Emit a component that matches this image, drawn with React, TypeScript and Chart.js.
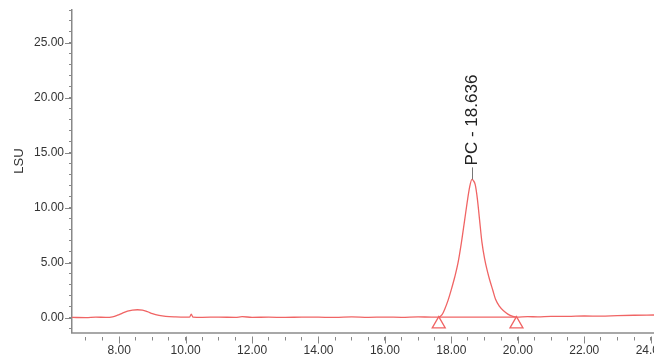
import React, { useEffect, useRef } from 'react';
import { Chart, registerables } from 'chart.js';

Chart.register(...registerables);

// Retention time (min) and detector signal (LSU)
const times = [
  6.58, 7.0, 7.3, 7.6, 7.8, 7.95, 8.1, 8.25, 8.4, 8.55, 8.7, 8.85, 9.0, 9.2, 9.4, 9.7,
  10.0, 10.12, 10.17, 10.22, 10.5, 11.0, 11.5, 11.7, 12.0, 12.5, 13.0, 13.5, 14.0, 14.5,
  15.0, 15.5, 16.0, 16.5, 17.0, 17.4, 17.62, 17.72, 17.8, 17.9, 18.0, 18.1, 18.2, 18.3,
  18.4, 18.48, 18.55, 18.62, 18.66, 18.72, 18.78, 18.85, 18.92, 19.0, 19.08, 19.15, 19.25,
  19.33, 19.45, 19.57, 19.7, 19.85, 19.96, 20.3, 20.6, 21.0, 21.5, 22.0, 22.5, 23.0, 23.5, 24.1,
];
const lsu = [
  0.05, 0.04, 0.08, 0.05, 0.1, 0.25, 0.45, 0.62, 0.72, 0.75, 0.72, 0.58, 0.4, 0.24, 0.15, 0.1,
  0.08, 0.08, 0.35, 0.08, 0.06, 0.08, 0.05, 0.12, 0.06, 0.07, 0.05, 0.08, 0.07, 0.05,
  0.1, 0.06, 0.08, 0.06, 0.1, 0.08, 0.08, 0.3, 0.8, 1.6, 2.6, 3.7, 5.0, 6.8,
  8.9, 10.6, 11.9, 12.6, 12.5, 12.1, 10.9, 8.9, 6.9, 5.4, 4.3, 3.5, 2.5,
  1.7, 1.05, 0.65, 0.35, 0.15, 0.08, 0.12, 0.1, 0.15, 0.14, 0.18, 0.17, 0.22, 0.25, 0.27,
];

const peakName = 'PC - 18.636';
const peakTime = 18.636;
const peakApex = 12.6;
const peakStart = 17.62;
const peakEnd = 19.96;
const baselineLevel = 0.08;
const markerLevel = -0.56;

const xLabelValues = [8, 10, 12, 14, 16, 18, 20, 22, 24];
const yLabelValues = [0, 5, 10, 15, 20, 25];
const yTitle = 'LSU';

const X_MIN = 6.58;
const X_MAX = 24.1;
const Y_MIN = -1.32;
const Y_MAX = 28;

const RED = 'rgb(240,100,100)';
const AXIS = '#888';
const TEXT = '#333';
const FONT = 'Liberation Sans, Arial, sans-serif';

const annotations = {
  id: 'annotations',
  afterDraw(chart: any) {
    const { ctx, chartArea } = chart;
    const xs = chart.scales.x;
    const ys = chart.scales.y;
    const x2 = chart.scales.x2;
    ctx.save();
    // longer major ticks
    ctx.strokeStyle = AXIS;
    ctx.lineWidth = 1;
    yLabelValues.forEach((v) => {
      const py = Math.round(ys.getPixelForValue(v)) + 0.5;
      ctx.beginPath();
      ctx.moveTo(chartArea.left - 7, py);
      ctx.lineTo(chartArea.left, py);
      ctx.stroke();
    });
    xLabelValues.forEach((v) => {
      const px = Math.round(x2.getPixelForValue(v)) + 0.5;
      ctx.beginPath();
      ctx.moveTo(px, x2.top);
      ctx.lineTo(px, x2.top + 7);
      ctx.stroke();
    });
    // peak label
    const px = xs.getPixelForValue(peakTime);
    const py = ys.getPixelForValue(peakApex);
    ctx.strokeStyle = '#777';
    ctx.beginPath();
    ctx.moveTo(Math.round(px) + 0.5, py);
    ctx.lineTo(Math.round(px) + 0.5, py - 12);
    ctx.stroke();
    ctx.translate(px, py - 13);
    ctx.rotate(-Math.PI / 2);
    ctx.fillStyle = '#222';
    ctx.font = `17px ${FONT}`;
    ctx.textAlign = 'left';
    ctx.textBaseline = 'middle';
    ctx.fillText(peakName, 1, 0);
    ctx.restore();
    // y title
    ctx.save();
    ctx.translate(19, 161);
    ctx.rotate(-Math.PI / 2);
    ctx.fillStyle = TEXT;
    ctx.font = `13px ${FONT}`;
    ctx.textAlign = 'center';
    ctx.textBaseline = 'middle';
    ctx.fillText(yTitle, 0, 0);
    ctx.restore();
  },
};

export default function App() {
  const ref = useRef<HTMLCanvasElement>(null);
  useEffect(() => {
    if (!ref.current) return;
    const xMinor: number[] = [];
    for (let v = 7; v <= 24.001; v += 0.5) xMinor.push(Math.round(v * 10) / 10);
    const yMinor: number[] = [];
    for (let v = -1; v <= 28; v += 1) yMinor.push(v);

    const chart = new Chart(ref.current, {
      type: 'line',
      data: {
        datasets: [
          {
            data: times.map((t, i) => ({ x: t, y: lsu[i] })),
            borderColor: RED,
            borderWidth: 1.3,
            pointRadius: 0,
            cubicInterpolationMode: 'monotone',
            xAxisID: 'x',
            yAxisID: 'y',
          },
          {
            data: [
              { x: peakStart, y: baselineLevel },
              { x: peakEnd, y: baselineLevel },
            ],
            borderColor: RED,
            borderWidth: 1.2,
            pointRadius: 0,
            xAxisID: 'x',
            yAxisID: 'y',
          },
          {
            data: [
              { x: peakStart, y: markerLevel },
              { x: peakEnd, y: markerLevel },
            ],
            showLine: false,
            pointStyle: 'triangle',
            pointRadius: 7.5,
            pointBorderColor: RED,
            pointBackgroundColor: 'rgba(255,255,255,0)',
            pointBorderWidth: 1.3,
            borderColor: RED,
            xAxisID: 'x',
            yAxisID: 'y',
          },
        ],
      } as any,
      options: {
        animation: false,
        responsive: false,
        maintainAspectRatio: false,
        layout: { autoPadding: false, padding: { top: 10, left: 0, right: 0, bottom: 0 } },
        plugins: { legend: { display: false }, tooltip: { enabled: false } },
        scales: {
          x: {
            type: 'linear',
            position: 'bottom',
            weight: 0,
            min: X_MIN,
            max: X_MAX,
            grid: { display: false, drawTicks: false },
            ticks: { display: false },
            border: { display: true, color: '#a8a8a8', width: 2 },
            afterFit: (s: any) => {
              s.height = 4;
              s.paddingLeft = 0;
              s.paddingRight = 0;
            },
          },
          x2: {
            type: 'linear',
            position: 'bottom',
            weight: 1,
            min: X_MIN,
            max: X_MAX,
            afterBuildTicks: (s: any) => {
              s.ticks = xMinor.map((v) => ({ value: v }));
            },
            grid: { drawOnChartArea: false, drawTicks: true, tickLength: 4, tickColor: AXIS, tickWidth: 1 },
            border: { display: false },
            ticks: {
              autoSkip: false,
              maxRotation: 0,
              minRotation: 0,
              padding: 3,
              color: TEXT,
              font: { family: FONT, size: 12 },
              callback: (v: any) => (xLabelValues.includes(Number(v)) ? Number(v).toFixed(2) : ''),
            },
            afterFit: (s: any) => {
              s.height = 21.5;
              s.paddingLeft = 0;
              s.paddingRight = 0;
            },
          },
          y: {
            type: 'linear',
            position: 'left',
            min: Y_MIN,
            max: Y_MAX,
            afterBuildTicks: (s: any) => {
              s.ticks = yMinor.map((v) => ({ value: v }));
            },
            grid: { drawOnChartArea: false, drawTicks: true, tickLength: 3, tickColor: AXIS, tickWidth: 1 },
            border: { display: true, color: AXIS, width: 1.5 },
            ticks: {
              autoSkip: false,
              padding: 5,
              color: TEXT,
              font: { family: FONT, size: 12 },
              callback: (v: any) => (yLabelValues.includes(Number(v)) ? Number(v).toFixed(2) : ''),
            },
            afterFit: (s: any) => {
              s.width = 72;
              s.paddingTop = 0;
              s.paddingBottom = 0;
            },
          },
        },
      } as any,
      plugins: [annotations],
    });
    return () => chart.destroy();
  }, []);

  return (
    <div style={{ position: 'fixed', left: 0, top: 0, width: 654, height: 358, background: '#fff' }}>
      <canvas ref={ref} width={654} height={358} style={{ display: 'block' }} />
    </div>
  );
}
